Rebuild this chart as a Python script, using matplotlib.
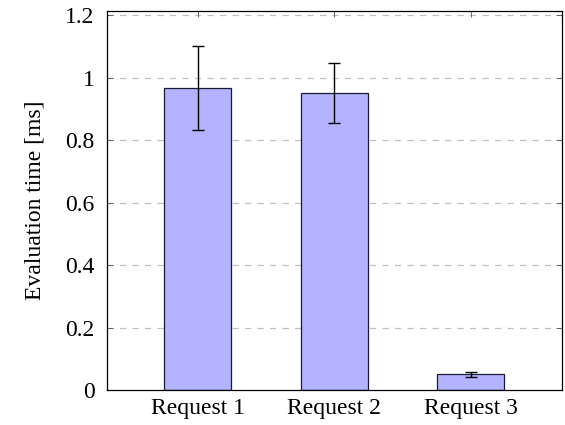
import matplotlib
matplotlib.use("Agg")
import matplotlib.pyplot as plt
import numpy as np

categories = ["Request 1", "Request 2", "Request 3"]
means = [0.968, 0.949, 0.050]
err_low = [0.833, 0.853, 0.042]
err_high = [1.102, 1.045, 0.059]
yticks = [0, 0.2, 0.4, 0.6, 0.8, 1.0, 1.2]
ytick_labels = ["0", "0.2", "0.4", "0.6", "0.8", "1", "1.2"]

plt.rcParams['font.family'] = ['Liberation Serif', 'DejaVu Serif']
plt.rcParams['mathtext.fontset'] = 'stix'

fig = plt.figure(figsize=(5.65, 4.25), dpi=100)
ax = fig.add_axes([107/565, 35/425, (561.5-107)/565, (390-11)/425])

x = np.arange(len(categories))
means_a = np.array(means)
yerr = np.vstack([means_a - np.array(err_low), np.array(err_high) - means_a])

ax.bar(x, means, width=0.49, color='#B3B3FF', edgecolor='#1a1a33', linewidth=0.9, zorder=2)
ax.errorbar(x, means, yerr=yerr, fmt='none', ecolor='black', elinewidth=1.0,
            capsize=4, capthick=1.0, zorder=3)

ax.set_xlim(-0.663, 2.663)
ax.set_ylim(0, 1.213)
ax.set_yticks(yticks)
ax.set_yticklabels(ytick_labels)
ax.set_xticks(x)
ax.set_xticklabels(categories)

for yv in yticks[1:]:
    ax.axhline(yv, color='#c0c0c0', linestyle=(0, (5, 5)), linewidth=0.9, zorder=1)

fs = 17
ax.tick_params(axis='y', direction='in', left=True, right=True, length=4, width=0.6,
               color='#555555', labelsize=fs, pad=9, labelcolor='black')
ax.tick_params(axis='x', direction='in', top=True, bottom=True, length=4, width=0.6,
               color='#555555', labelsize=fs, pad=6, labelcolor='black')

for s in ax.spines.values():
    s.set_linewidth(0.9)
    s.set_color('black')

ax.set_ylabel("Evaluation time [ms]", fontsize=fs, labelpad=14)

fig.savefig("out.png", dpi=100)
